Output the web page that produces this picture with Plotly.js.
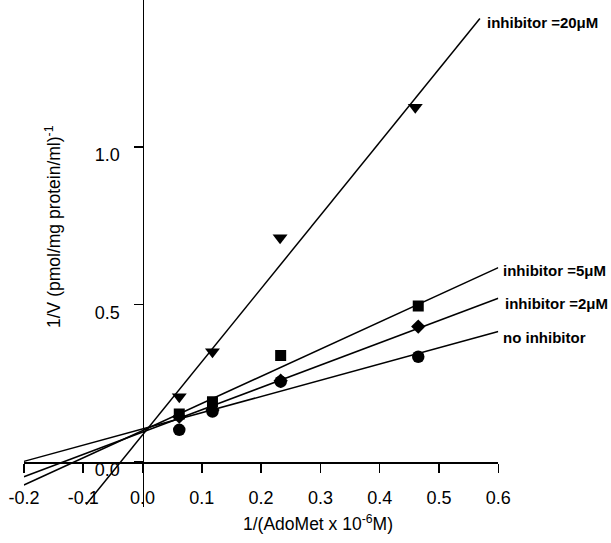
<!DOCTYPE html>
<html><head><meta charset="utf-8">
<script src="https://cdn.plot.ly/plotly-3.0.1.min.js"></script>
<style>html,body{margin:0;padding:0;background:#fff}#chart{width:611px;height:543px}</style>
</head><body><div id="chart"></div>
<script>
// 1/[AdoMet] values (x) and 1/V values (y)
const xVals = [0.062, 0.118, 0.233, 0.465];
const xTri = [0.062, 0.118, 0.232, 0.46];
const yNone = [0.102, 0.16, 0.255, 0.334];
const y2uM = [0.144, 0.165, 0.258, 0.430];
const y5uM = [0.152, 0.191, 0.338, 0.495];
const y20uM = [0.207, 0.350, 0.712, 1.126];

// fitted line end points
const fitNoneX = [-0.2, 0.6], fitNoneY = [0.002, 0.414];
const fit2X = [-0.2, 0.6], fit2Y = [-0.047, 0.52];
const fit5X = [-0.2, 0.6], fit5Y = [-0.073, 0.617];
const fit20X = [-0.095, 0.569], fit20Y = [-0.135, 1.408];

// tick labels
const xTickVals = [-0.2, -0.1, 0.0, 0.1, 0.2, 0.3, 0.4, 0.5, 0.6];
const xTickText = ["-0.2", "-0.1", "0.0", "0.1", "0.2", "0.3", "0.4", "0.5", "0.6"];
const yTickVals = [0.0, 0.5, 1.0];
const yTickText = ["0.0", "0.5", "1.0"];

const lineLabels = ["inhibitor =20μM", "inhibitor =5μM", "inhibitor =2μM", "no inhibitor"];

const W = 611, H = 543;
const x0px = 142.5, xUnit = 593;   // pixel of x=0 and pixels per unit
const y0px = 462, yUnit = 315;     // pixel of y=0 and pixels per unit
const xMin = -0.2, xMax = 0.6;
const yTopPx = 0, yBotPx = 507;
const yMax = (y0px - yTopPx) / yUnit, yMin = (y0px - yBotPx) / yUnit;

const black = '#000';
const lineStyle = {color: black, width: 1.5};
function fitTrace(x, y) { return {x: x, y: y, type: 'scatter', mode: 'lines', line: lineStyle, hoverinfo: 'skip', showlegend: false}; }
function ptTrace(x, y, sym, size) { return {x: x, y: y, type: 'scatter', mode: 'markers', marker: {symbol: sym, size: size, color: black, line: {width: 0}}, showlegend: false}; }

const data = [
  fitTrace(fitNoneX, fitNoneY),
  fitTrace(fit2X, fit2Y),
  fitTrace(fit5X, fit5Y),
  fitTrace(fit20X, fit20Y),
  ptTrace(xVals, yNone, 'circle', 12.5),
  ptTrace(xVals, y5uM, 'square', 11),
  ptTrace(xVals, y2uM, 'diamond', 11),
  ptTrace(xTri, y20uM, 'triangle-down', 13)
];

const tickFont = {family: 'Liberation Sans, Arial, sans-serif', size: 18, color: black};
const labFont = {family: 'Liberation Sans, Arial, sans-serif', size: 15, color: black, weight: 'bold'};
const titleFont = {family: 'Liberation Sans, Arial, sans-serif', size: 17.5, color: black};

const labelPos = [[485, 22], [501, 271], [503, 303], [501, 337]];
const annotations = lineLabels.map((t, i) => ({
  text: '<b>' + t + '</b>', xref: 'paper', yref: 'paper',
  x: labelPos[i][0] / W, y: 1 - labelPos[i][1] / H,
  xanchor: 'left', yanchor: 'middle', showarrow: false, font: labFont
}));
annotations.push({text: '1/(AdoMet x 10<sup>-6</sup>M)', xref: 'paper', yref: 'paper',
  x: 318 / W, y: 1 - 523 / H, xanchor: 'center', yanchor: 'middle', showarrow: false, font: titleFont});
annotations.push({text: '1/V (pmol/mg protein/ml)<sup>-1</sup>', xref: 'paper', yref: 'paper',
  x: 53 / W, y: 1 - 226 / H, xanchor: 'center', yanchor: 'middle', textangle: -90, showarrow: false, font: titleFont});

const layout = {
  width: W, height: H,
  margin: {l: 0, r: 0, t: 0, b: 0, pad: 0},
  paper_bgcolor: '#fff', plot_bgcolor: 'rgba(0,0,0,0)',
  showlegend: false,
  xaxis: {
    range: [xMin, xMax], domain: [(x0px + xMin * xUnit) / W, (x0px + xMax * xUnit) / W],
    anchor: 'free', position: (H - y0px) / H,
    showline: true, linecolor: black, linewidth: 1.5,
    ticks: 'outside', ticklen: 9, tickwidth: 1.5, tickcolor: black,
    tickmode: 'array', tickvals: xTickVals, ticktext: xTickText,
    tickfont: tickFont, ticklabelstandoff: 10,
    showgrid: false, zeroline: false, automargin: false, fixedrange: true
  },
  yaxis: {
    range: [yMin, yMax], domain: [(H - yBotPx) / H, 1 - yTopPx / H],
    anchor: 'free', position: x0px / W,
    showline: true, linecolor: black, linewidth: 1.5,
    ticks: 'outside', ticklen: 9, tickwidth: 1.5, tickcolor: black,
    tickmode: 'array', tickvals: yTickVals, ticktext: yTickText,
    tickfont: tickFont, ticklabelstandoff: 10, ticklabelshift: 8,
    showgrid: false, zeroline: false, automargin: false, fixedrange: true
  },
  annotations: annotations
};

Plotly.newPlot('chart', data, layout, {displayModeBar: false, staticPlot: true});
</script>
</body></html>
